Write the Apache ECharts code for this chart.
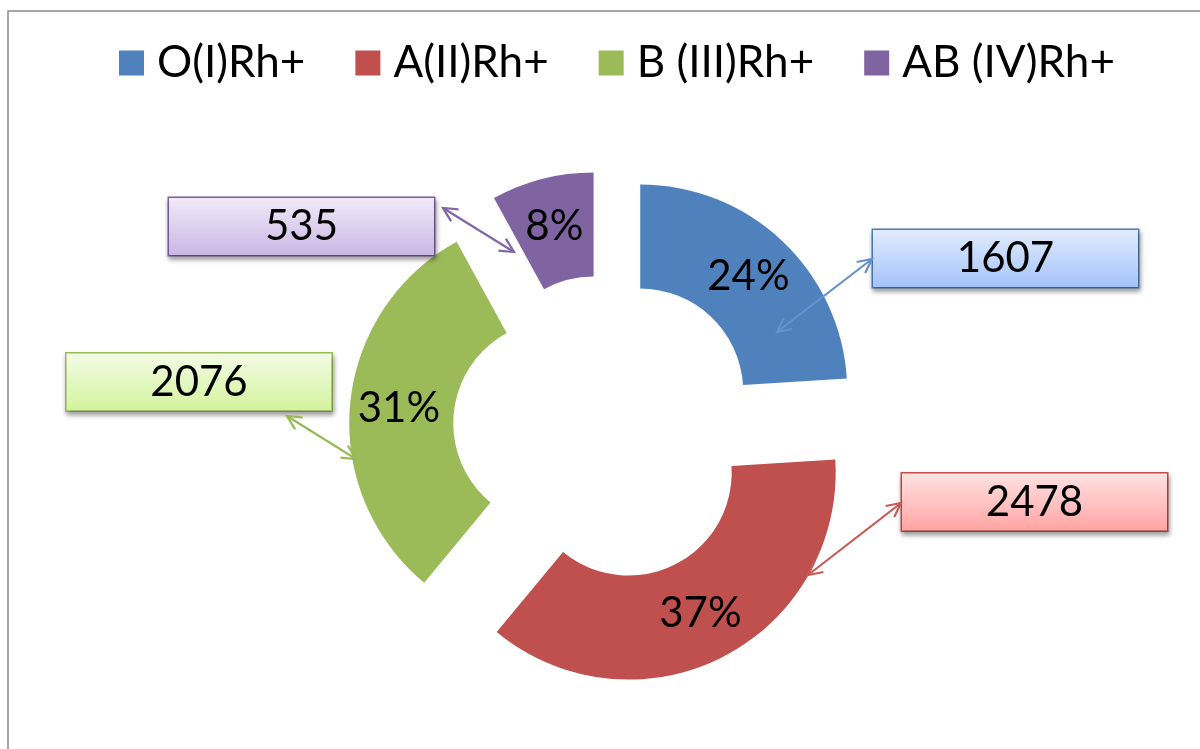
<!DOCTYPE html>
<html>
<head>
<meta charset="utf-8">
<script src="https://cdn.jsdelivr.net/npm/echarts@6/dist/echarts.min.js"></script>
<style>html,body{margin:0;padding:0;background:#fff;}#chart{width:1200px;height:749px;}</style>
</head>
<body>
<div id="chart"></div>
<script>
// ---- data ----
const categories = ['O(I)Rh+', 'A(II)Rh+', 'B (III)Rh+', 'AB (IV)Rh+'];
const values = [1607, 2478, 2076, 535];

// ---- styles / layout ----
const colors = ['#4F81BD', '#C0504D', '#9BBB59', '#8064A2'];
const arrowColors = ['#6592CC', '#C75A57', '#98BA56', '#8266A6'];
const boxTop = ['#E2ECFC', '#FFE3E3', '#F3FCE6', '#F1EBF9'];
const boxBottom = ['#A2C3FA', '#FFA3A2', '#D3F39C', '#C9B5E4'];
const boxCenter = [[1005.5, 258.5], [1034.5, 502], [199, 382], [301.5, 226.5]];
const arrows = [
  [[777, 332], [872, 259]],
  [[808, 575], [901, 503]],
  [[356, 459], [287, 416]],
  [[514, 252], [443, 208]]
];
const FONT = 'Lato';

function head(p, q, color) {
  const dx = p[0] - q[0], dy = p[1] - q[1];
  const len = Math.sqrt(dx * dx + dy * dy);
  const ux = dx / len, uy = dy / len;
  const L = 14, W = 7;
  return {
    type: 'polyline',
    shape: { points: [[p[0] - L * ux - W * uy, p[1] - L * uy + W * ux], p, [p[0] - L * ux + W * uy, p[1] - L * uy - W * ux]] },
    style: { stroke: color, lineWidth: 2.2, fill: null },
    z: 20
  };
}
const graphics = [{
  type: 'rect',
  shape: { x: 8, y: 11, width: 1300, height: 900 },
  style: { fill: null, stroke: '#898989', lineWidth: 1.5 },
  z: 0
}];
arrows.forEach((a, i) => {
  graphics.push({ type: 'line', shape: { x1: a[0][0], y1: a[0][1], x2: a[1][0], y2: a[1][1] }, style: { stroke: arrowColors[i], lineWidth: 2.2 }, z: 20 });
  graphics.push(head(a[0], a[1], arrowColors[i]));
  graphics.push(head(a[1], a[0], arrowColors[i]));
});

const chart = echarts.init(document.getElementById('chart'));
const option = {
  backgroundColor: '#fff',
  animation: false,
  color: colors,
  legend: {
    data: categories,
    top: 36,
    left: 114,
    icon: 'rect',
    itemWidth: 25,
    itemHeight: 25,
    itemGap: 50,
    textStyle: { fontFamily: FONT, fontSize: 44, color: '#000', padding: [0, 0, 0, 8] },
    selectedMode: false
  },
  graphic: graphics,
  series: [
    {
      type: 'pie',
      center: [606, 428],
      radius: [103, 207],
      startAngle: 90,
      clockwise: true,
      selectedMode: 'multiple',
      selectedOffset: 50,
      percentPrecision: 0,
      avoidLabelOverlap: false,
      silent: true,
      label: {
        show: true,
        position: 'inside',
        formatter: '{d}%',
        fontFamily: FONT,
        fontSize: 42,
        color: '#000',
        padding: [6, 0, 0, 0]
      },
      labelLine: { show: false },
      emphasis: { disabled: true },
      data: categories.map((c, i) => ({ name: c, value: values[i], selected: true }))
    },
    {
      type: 'pie',
      center: [606, 428],
      radius: [103, 207],
      startAngle: 90,
      silent: true,
      avoidLabelOverlap: false,
      itemStyle: { color: 'rgba(0,0,0,0)' },
      emphasis: { disabled: true },
      label: {
        show: true,
        position: 'outside',
        formatter: '{v|{c}}',
        width: 265,
        height: 57,
        align: 'center',
        padding: 0,
        borderWidth: 1.5,
        shadowColor: 'rgba(0,0,0,0.35)',
        shadowBlur: 5,
        shadowOffsetX: 1,
        shadowOffsetY: 3,
        rich: {
          v: {
            fontFamily: FONT,
            fontSize: 42,
            color: '#000',
            lineHeight: 42,
            padding: [15, 0, 0, 0]
          }
        }
      },
      labelLine: { show: false },
      labelLayout: function (params) {
        const p = boxCenter[params.dataIndex];
        return { x: p[0], y: p[1], align: 'center', verticalAlign: 'middle' };
      },
      data: categories.map((c, i) => ({
        name: c,
        value: values[i],
        label: {
          borderColor: colors[i],
          backgroundColor: {
            type: 'linear', x: 0, y: 0, x2: 0, y2: 1,
            colorStops: [{ offset: 0, color: boxTop[i] }, { offset: 1, color: boxBottom[i] }]
          }
        }
      }))
    }
  ]
};
chart.setOption(option);
</script>
</body>
</html>
